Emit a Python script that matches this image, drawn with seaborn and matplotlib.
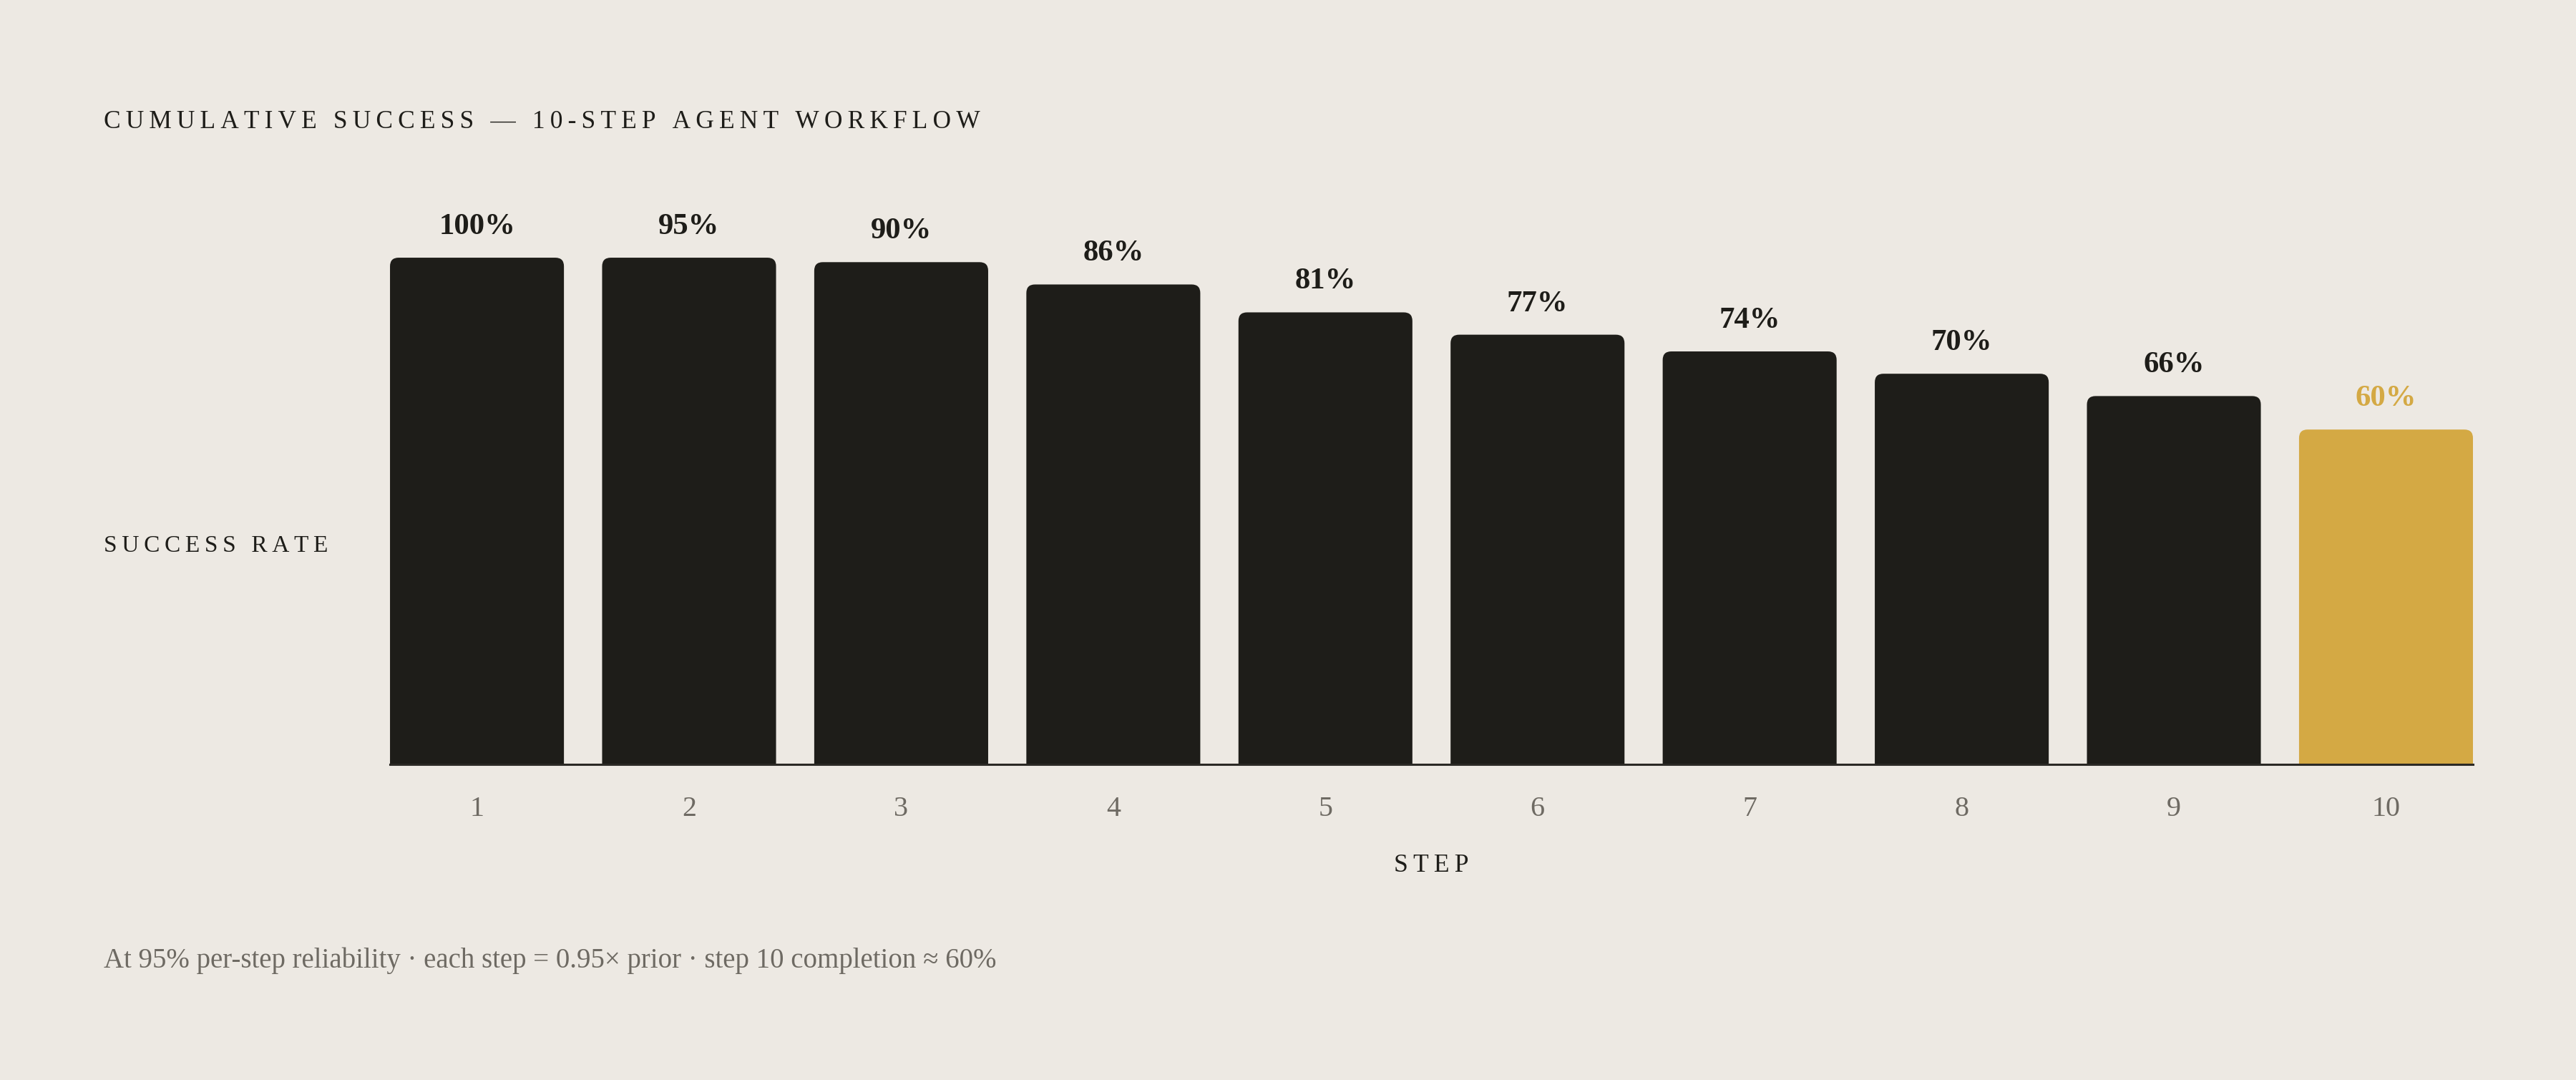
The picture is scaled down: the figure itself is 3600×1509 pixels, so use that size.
import matplotlib
matplotlib.use("Agg")
import matplotlib.pyplot as plt
import seaborn as sns
from matplotlib.patches import FancyBboxPatch

# data
steps = ["1", "2", "3", "4", "5", "6", "7", "8", "9", "10"]
success = [1.00, 0.95, 0.90, 0.86, 0.81, 0.77, 0.74, 0.70, 0.66, 0.60]
highlight_step = "10"

title = "CUMULATIVE SUCCESS — 10-STEP AGENT WORKFLOW"
ylabel = "SUCCESS RATE"
xlabel = "STEP"
note = "At 95% per-step reliability · each step = 0.95× prior · step 10 completion ≈ 60%"

BG = "#EDE9E3"
INK = "#1E1D19"
GOLD = "#D4A944"
MUTED = "#6E6A63"
Y_TOP = 0.908  # value axis stops short of 100%, so the first bars are capped

sns.set_theme(style="white")
plt.rcParams["font.family"] = ["Liberation Serif", "DejaVu Serif"]


def spaced(text, sep="\u2009"):
    """Fake letter spacing by inserting thin spaces between characters."""
    return sep.join(text)


fig = plt.figure(figsize=(18, 7.545), dpi=200, facecolor=BG)
ax = fig.add_axes([0.1514, 0.2923, 0.8086, 0.4691])
ax.set_facecolor(BG)

colors = {s: (GOLD if s == highlight_step else INK) for s in steps}
bar_w = 0.82
sns.barplot(x=steps, y=success, hue=steps, palette=colors, legend=False,
            width=bar_w, saturation=1, ax=ax)

ax.set_xlim(-bar_w / 2, len(steps) - 1 + bar_w / 2)
ax.set_ylim(0, Y_TOP)

# pixel-based rounding, converted to data units in x and y
fig.canvas.draw()
px_per_x = ax.transData.transform((1, 0))[0] - ax.transData.transform((0, 0))[0]
px_per_y = ax.transData.transform((0, 1))[1] - ax.transData.transform((0, 0))[1]
radius_px = 12
r_x = radius_px / px_per_x
aspect = px_per_x / px_per_y

for patch, step, val in zip(list(ax.patches), steps, success):
    patch.set_visible(False)
    h = min(patch.get_height(), Y_TOP)
    x0 = patch.get_x()
    w = patch.get_width()
    drop = 3 * r_x * aspect
    rb = FancyBboxPatch((x0, -drop), w, h + drop,
                        boxstyle=f"round,pad=0,rounding_size={r_x}",
                        mutation_aspect=aspect,
                        facecolor=patch.get_facecolor(), edgecolor="none",
                        zorder=2)
    ax.add_patch(rb)
    ax.annotate(f"{val:.0%}", (x0 + w / 2, h), xytext=(0, 11.9),
                textcoords="offset points", ha="center", va="baseline",
                fontsize=15.4, fontweight="bold",
                color=GOLD if step == highlight_step else INK,
                annotation_clip=False)

sns.despine(ax=ax, left=True, top=True, right=True)
ax.spines["bottom"].set_color("#2B2925")
ax.spines["bottom"].set_linewidth(1.1)
ax.spines["bottom"].set_zorder(3)
ax.set_yticks([])
ax.set_xlabel("")
ax.set_ylabel("")
ax.tick_params(axis="x", length=0, pad=15.8, labelsize=14.4, labelcolor=MUTED)

fig.text(0.0403, 0.8814, spaced(title), ha="left", va="baseline",
         fontsize=12.75, color=INK)
fig.text(0.0403, 0.489, spaced(ylabel), ha="left", va="baseline",
         fontsize=12.0, color=INK)
fig.text(0.5556, 0.1928, spaced(xlabel), ha="center", va="baseline",
         fontsize=12.8, color=INK)
fig.text(0.0403, 0.104, note, ha="left", va="baseline",
         fontsize=14.0, color=MUTED)

fig.savefig("out.png", dpi=200, facecolor=BG)
